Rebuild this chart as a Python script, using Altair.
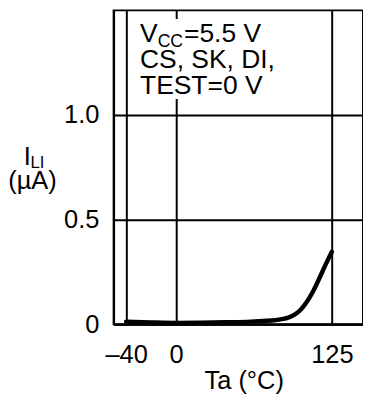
import altair as alt
import pandas as pd

ta = [-40, -20, 0, 20, 40, 60, 70, 80, 85, 90, 95, 100, 105, 110, 115, 120, 125]
ili = [0.012, 0.009, 0.007, 0.008, 0.010, 0.013, 0.016, 0.020, 0.025, 0.032, 0.046, 0.070, 0.108, 0.158, 0.220, 0.285, 0.347]
x_ticks = [-40, 0, 125]
y_ticks = [0, 0.5, 1.0]

df = pd.DataFrame({"Ta": ta, "ILI": ili})
FONT = "Liberation Sans"

base = alt.Chart(df)

line = base.mark_line(color="black", strokeWidth=4.5, strokeCap="round", interpolate="monotone").encode(
    x=alt.X("Ta:Q", scale=alt.Scale(domain=[-50, 150], nice=False),
            axis=alt.Axis(values=x_ticks, title="Ta (°C)", grid=True, ticks=False,
                          labelExpr="datum.value < 0 ? '–' + abs(datum.value) : datum.value",
                          labelPadding=18, titleX=133, titleY=66, titleBaseline="alphabetic",
                          titleAlign="center", titleAnchor="start")),
    y=alt.Y("ILI:Q", scale=alt.Scale(domain=[0, 1.5], nice=False),
            axis=alt.Axis(values=y_ticks, title=None, grid=True, ticks=False,
                          labelExpr="datum.value == 0 ? '0' : format(datum.value, '.1f')",
                          labelPadding=15)),
)

bg = base.mark_rect(color="white").encode(
    x=alt.value(19), x2=alt.value(173), y=alt.value(9), y2=alt.value(90)
)

def txt(t, x, y, size=27, align="left"):
    return alt.Chart(pd.DataFrame({"t": [t]})).mark_text(
        font=FONT, fontSize=size, align=align, baseline="alphabetic", color="black"
    ).encode(text="t:N", x=alt.value(x), y=alt.value(y))

ann = [
    txt("V", 27, 32),
    txt("CC", 45, 37, size=18),
    txt("=5.5 V", 72, 32),
    txt("CS, SK, DI,", 27, 59),
    txt("TEST=0 V", 27, 85),
    txt("I", -92, 158, size=26),
    txt("LI", -85, 161, size=17),
    txt("(µA)", -83, 183, size=26, align="center"),
]

chart = alt.layer(line, bg, *ann).properties(
    width=255, height=321,
    autosize=alt.AutoSizeParams(type="none"),
    padding={"left": 108, "top": -2, "right": 0, "bottom": 76},
).configure_view(
    stroke="black", strokeWidth=2
).configure_axis(
    labelFont=FONT, titleFont=FONT, labelFontSize=26, titleFontSize=26,
    labelColor="black", titleColor="black", titleFontWeight="normal",
    gridColor="black", gridWidth=2, gridOpacity=1,
    domainColor="black", domainWidth=2,
)

chart.save("out.html", embed_options={"renderer": "svg", "actions": False})
